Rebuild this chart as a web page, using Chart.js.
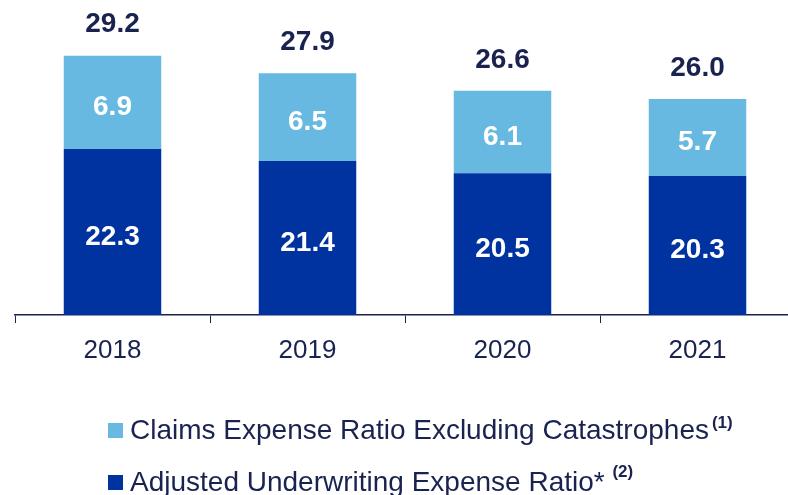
<!DOCTYPE html>
<html>
<head>
<meta charset="utf-8">
<script src="https://cdn.jsdelivr.net/npm/chart.js@4/dist/chart.umd.min.js"></script>
<style>
  html, body { margin: 0; padding: 0; background: #fff; overflow: hidden; }
  #wrap { width: 810px; height: 495px; }
</style>
</head>
<body>
<div id="wrap"><canvas id="grafico" width="810" height="495"></canvas></div>
<script>
const anios = ["2018", "2019", "2020", "2021"]
const ajustado = [22.3, 21.4, 20.5, 20.3]
const siniestros = [6.9, 6.5, 6.1, 5.7]
const totales = [29.2, 27.9, 26.6, 26.0]
const leyenda = [
  { texto: "Claims Expense Ratio Excluding Catastrophes", nota: "(1)", color: "#67b9e1", subir: 8 },
  { texto: "Adjusted Underwriting Expense Ratio*", nota: " (2)", color: "#0033a0", subir: 11 }
]

const azulOscuro = "#0033a0"
const celeste = "#67b9e1"
const navy = "#1a2350"
const fuente = "Liberation Sans, Arial, sans-serif"

// etiquetas dentro de las barras, totales arriba y leyenda abajo
const etiquetas = {
  id: "etiquetas",
  afterDatasetsDraw(chart) {
    const c = chart.ctx
    c.save()
    c.textAlign = "center"
    c.textBaseline = "middle"
    c.font = "bold 28px " + fuente
    c.fillStyle = "#ffffff"
    chart.data.datasets.forEach((ds, i) => {
      const meta = chart.getDatasetMeta(i)
      meta.data.forEach((bar, j) => {
        const base = Math.min(bar.base, chart.chartArea.bottom)
        c.fillText(ds.data[j].toFixed(1), bar.x, (bar.y + base) / 2 + 5)
      })
    })
    const top = chart.getDatasetMeta(1)
    c.fillStyle = navy
    top.data.forEach((bar, j) => {
      c.fillText(totales[j].toFixed(1), bar.x, bar.y - 31)
    })
    c.restore()
  },
  afterDraw(chart) {
    const c = chart.ctx
    c.save()
    c.textBaseline = "middle"
    const filas = [431, 483]
    leyenda.forEach((item, i) => {
      const y = filas[i]
      c.fillStyle = item.color
      c.fillRect(108, y - 8, 15, 15)
      c.fillStyle = navy
      c.font = "28px " + fuente
      c.textAlign = "left"
      c.fillText(item.texto, 130, y)
      const w = c.measureText(item.texto).width
      c.font = "bold 17px " + fuente
      c.fillText(item.nota, 130 + w + 3, y - item.subir)
    })
    c.restore()
  }
}

new Chart(document.getElementById("grafico"), {
  type: "bar",
  data: {
    labels: anios,
    datasets: [
      { label: leyenda[1].texto, data: ajustado, backgroundColor: azulOscuro, categoryPercentage: 1, barPercentage: 0.5 },
      { label: leyenda[0].texto, data: siniestros, backgroundColor: celeste, categoryPercentage: 1, barPercentage: 0.5 }
    ]
  },
  options: {
    responsive: false,
    animation: false,
    layout: { padding: { left: 15, right: 15, top: 0, bottom: 0 } },
    plugins: { legend: { display: false }, tooltip: { enabled: false } },
    scales: {
      x: {
        stacked: true,
        afterFit(scale) { scale.height = 180 },
        grid: { offset: true, drawOnChartArea: false, tickLength: 8, color: navy, lineWidth: 1 },
        border: { display: true, color: navy, width: 1.5 },
        ticks: { color: navy, font: { family: fuente, size: 26 }, padding: 12 }
      },
      y: {
        stacked: true,
        display: false,
        min: 10,
        max: 33.33
      }
    }
  },
  plugins: [etiquetas]
})
</script>
</body>
</html>
